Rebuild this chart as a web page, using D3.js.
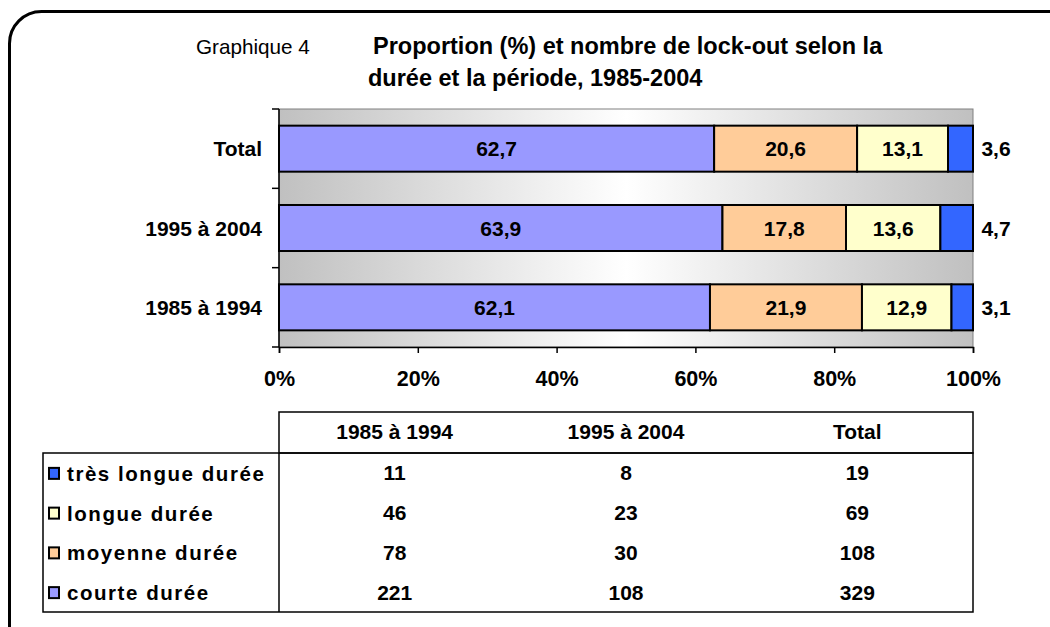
<!DOCTYPE html>
<html>
<head>
<meta charset="utf-8">
<script src="https://cdn.jsdelivr.net/npm/d3@7"></script>
<style>
  html, body { margin: 0; padding: 0; background: #fff; }
  svg { display: block; font-family: "Liberation Sans", Arial, sans-serif; }
</style>
</head>
<body>
<svg id="chart" width="1050" height="627"></svg>
<script>
// periods, top to bottom as drawn
const periods = ["Total", "1995 à 2004", "1985 à 1994"];
const courte = [62.7, 63.9, 62.1];
const moyenne = [20.6, 17.8, 21.9];
const longue = [13.1, 13.6, 12.9];
const tresLongue = [3.6, 4.7, 3.1];
const xTicks = [0, 20, 40, 60, 80, 100];

// count table
const tableCols = ["1985 à 1994", "1995 à 2004", "Total"];
const tableRows = ["très longue durée", "longue durée", "moyenne durée", "courte durée"];
const counts = [
  [11, 8, 19],
  [46, 23, 69],
  [78, 30, 108],
  [221, 108, 329],
];

const seriesColors = {
  "courte durée": "#9999ff",
  "moyenne durée": "#ffcc99",
  "longue durée": "#ffffcc",
  "très longue durée": "#3366ff",
};

const svg = d3.select("#chart");
const fmt = (v) => String(v).replace(".", ",");
const FS = 21;

// outer rounded frame (runs off the right and bottom edges)
svg.append("rect")
  .attr("x", 9.5).attr("y", 11.5)
  .attr("width", 1200).attr("height", 800)
  .attr("rx", 32)
  .attr("fill", "none")
  .attr("stroke", "#000")
  .attr("stroke-width", 3);

// title
svg.append("text").attr("x", 196).attr("y", 54)
  .attr("font-size", 20.7).text("Graphique 4");
svg.append("text").attr("x", 373).attr("y", 54)
  .attr("font-size", 23.5).attr("font-weight", "bold")
  .text("Proportion (%) et nombre de lock-out selon la");
svg.append("text").attr("x", 368).attr("y", 86)
  .attr("font-size", 23.5).attr("font-weight", "bold")
  .text("durée et la période, 1985-2004");

const x = d3.scaleLinear().domain([0, 100]).range([279, 973]);
const y = d3.scaleBand().domain(periods).range([109, 347])
  .paddingInner(0.42).paddingOuter(0.21);

// plot area with horizontal gray-white-gray gradient
const defs = svg.append("defs");
const grad = defs.append("linearGradient").attr("id", "bg")
  .attr("x1", "0%").attr("x2", "100%").attr("y1", "0%").attr("y2", "0%");
grad.append("stop").attr("offset", "0%").attr("stop-color", "#c0c0c0");
grad.append("stop").attr("offset", "50%").attr("stop-color", "#ffffff");
grad.append("stop").attr("offset", "100%").attr("stop-color", "#c0c0c0");

svg.append("rect")
  .attr("x", x(0)).attr("y", 109)
  .attr("width", x(100) - x(0)).attr("height", 347 - 109)
  .attr("fill", "url(#bg)")
  .attr("stroke", "#808080").attr("stroke-width", 1);

// stacked bars
const keys = ["courte durée", "moyenne durée", "longue durée", "très longue durée"];
const rows = periods.map((p, i) => ({
  period: p,
  "courte durée": courte[i],
  "moyenne durée": moyenne[i],
  "longue durée": longue[i],
  "très longue durée": tresLongue[i],
}));
const stacked = d3.stack().keys(keys)(rows);

const layer = svg.append("g").selectAll("g")
  .data(stacked)
  .join("g")
  .attr("fill", (s) => seriesColors[s.key]);

layer.selectAll("rect")
  .data((s) => s)
  .join("rect")
  .attr("x", (d) => x(d[0]))
  .attr("y", (d) => y(d.data.period))
  .attr("width", (d) => x(d[1]) - x(d[0]))
  .attr("height", y.bandwidth())
  .attr("stroke", "#000")
  .attr("stroke-width", 2);

// value labels: inside for the first three series, outside right for the last
layer.selectAll("text")
  .data((s) => s.map((d) => ({ d, key: s.key })))
  .join("text")
  .attr("x", (o) => o.key === "très longue durée" ? 996 : x((o.d[0] + o.d[1]) / 2))
  .attr("y", (o) => y(o.d.data.period) + y.bandwidth() / 2 + 7.5)
  .attr("text-anchor", "middle")
  .attr("font-size", FS)
  .attr("font-weight", "bold")
  .attr("fill", "#000")
  .text((o) => fmt(o.d.data[o.key]));

// y axis
const yAxis = svg.append("g");
yAxis.append("line")
  .attr("x1", x(0)).attr("x2", x(0)).attr("y1", 109).attr("y2", 347)
  .attr("stroke", "#000").attr("stroke-width", 1.5);
yAxis.selectAll("line.tick")
  .data(d3.range(periods.length + 1))
  .join("line")
  .attr("class", "tick")
  .attr("x1", x(0) - 7).attr("x2", x(0))
  .attr("y1", (i) => 109 + i * y.step())
  .attr("y2", (i) => 109 + i * y.step())
  .attr("stroke", "#000").attr("stroke-width", 1.5);
yAxis.selectAll("text")
  .data(periods)
  .join("text")
  .attr("x", 262)
  .attr("y", (p) => y(p) + y.bandwidth() / 2 + 7.5)
  .attr("text-anchor", "end")
  .attr("font-size", FS)
  .attr("font-weight", "bold")
  .text((p) => p);

// x axis
const xAxis = svg.append("g").attr("transform", "translate(0,347)")
  .call(d3.axisBottom(x).tickValues(xTicks).tickSize(6).tickFormat((d) => d + "%"));
xAxis.select(".domain").attr("stroke", "#000").attr("stroke-width", 1.5);
xAxis.selectAll(".tick line").attr("stroke", "#000").attr("stroke-width", 1.5);
xAxis.selectAll(".tick text")
  .attr("y", 39)
  .attr("dy", null)
  .attr("font-family", "Liberation Sans, Arial, sans-serif")
  .attr("font-size", FS + 0.5)
  .attr("font-weight", "bold")
  .attr("fill", "#000");

// data table
const colX = d3.scaleBand().domain(tableCols).range([279, 973]);
const rowY = d3.scaleBand().domain(tableRows).range([453, 612]);
const table = svg.append("g");

table.append("rect")
  .attr("x", 279).attr("y", 412).attr("width", 973 - 279).attr("height", 41)
  .attr("fill", "none").attr("stroke", "#000").attr("stroke-width", 1.5);
table.append("rect")
  .attr("x", 43).attr("y", 453).attr("width", 973 - 43).attr("height", 612 - 453)
  .attr("fill", "none").attr("stroke", "#000").attr("stroke-width", 1.5);
table.append("line")
  .attr("x1", 279).attr("x2", 279).attr("y1", 453).attr("y2", 612)
  .attr("stroke", "#000").attr("stroke-width", 1.5);

table.selectAll("text.head")
  .data(tableCols)
  .join("text")
  .attr("class", "head")
  .attr("x", (c) => colX(c) + colX.bandwidth() / 2)
  .attr("y", 439)
  .attr("text-anchor", "middle")
  .attr("font-size", FS)
  .attr("font-weight", "bold")
  .text((c) => c);

const tRow = table.selectAll("g.row")
  .data(tableRows)
  .join("g")
  .attr("class", "row")
  .attr("transform", (r) => `translate(0,${rowY(r) + rowY.bandwidth() / 2})`);

tRow.append("rect")
  .attr("x", 49).attr("y", -5)
  .attr("width", 10).attr("height", 11)
  .attr("fill", (r) => seriesColors[r])
  .attr("stroke", "#000").attr("stroke-width", 2);

tRow.append("text")
  .attr("x", 67).attr("y", 8)
  .attr("font-size", 20.5)
  .attr("font-weight", "bold")
  .attr("letter-spacing", 1.55)
  .text((r) => r);

tRow.selectAll("text.val")
  .data((r) => counts[tableRows.indexOf(r)].map((v, j) => ({ v, col: tableCols[j] })))
  .join("text")
  .attr("class", "val")
  .attr("x", (o) => colX(o.col) + colX.bandwidth() / 2)
  .attr("y", 7.5)
  .attr("text-anchor", "middle")
  .attr("font-size", FS)
  .attr("font-weight", "bold")
  .text((o) => o.v);
</script>
</body>
</html>
